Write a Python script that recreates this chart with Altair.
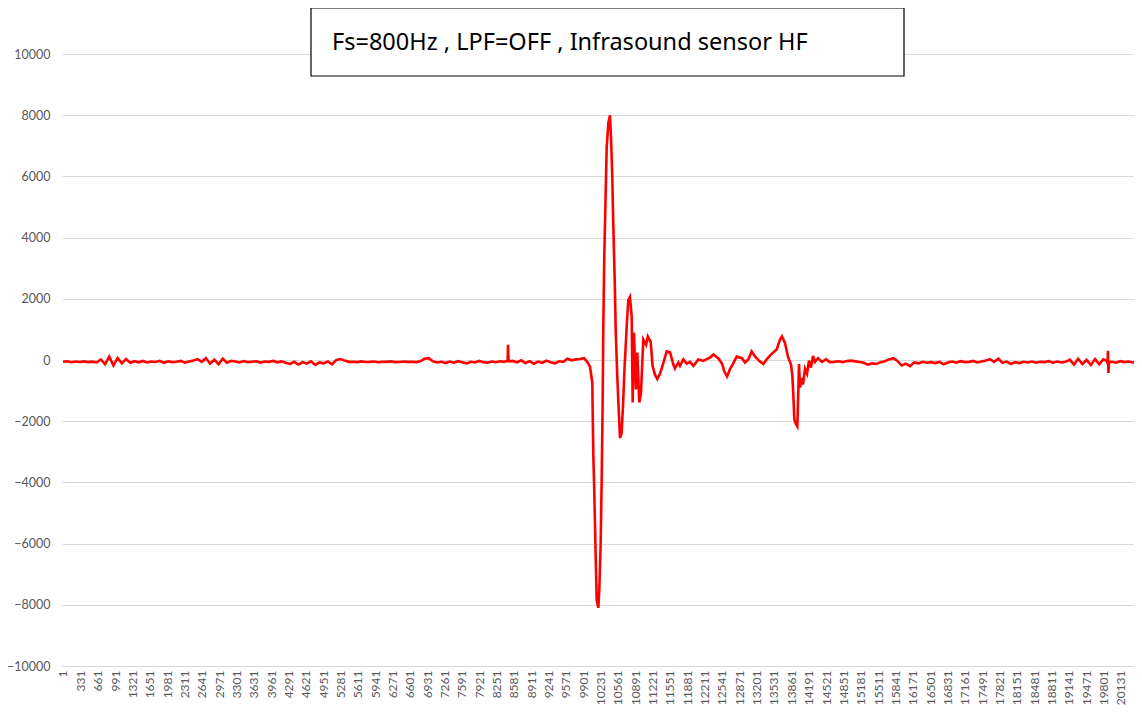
import altair as alt
import pandas as pd

# ---------------- data ----------------
# pre-event baseline, one value every 80 samples starting at sample 1
pre_start, pre_step = 1, 80
pre_values = [
    -60, -40, -75, -50, -65, -45, -70, -55, -80,
    20, -140, 110, -180, 60, -110, 30, -90,
    -40, -75, -30, -80, -50, -65, -25, -90, -45, -70, -55, -30, -85, -50,
    -20, 30, -60, 60, -120, 10, -140, 40, -90, -30,
    -50, -80, -35, -70, -55, -40, -85, -50, -60, -30, -75, -45,
    -90, -130, -60, -150, -70, -120, -40, -160, -80, -110, -50, -140,
    0, 30, -20, -60,
    -55, -70, -45, -65, -60, -50, -75, -55, -60, -45, -70, -65, -50, -60, -55, -70, -45,
    40, 60, -40,
    -80, -60, -100, -50, -90, -40, -70, -110, -60, -80, -30, -70, -90, -50, -75, -40,
    -60, -40,
    -30, -80, -10, -100, -40, -120, -50, -90, -20, -70, -110, -40, -60, 40, -10, 20,
]

# narrow spike near sample 8470
spike1_x = [8462, 8470, 8478]
spike1_y = [-20, 500, 30]

# main event
event_x = [9840, 9916, 9973, 10030, 10074, 10081, 10093, 10112, 10138, 10157,
           10188, 10207, 10233, 10252, 10271, 10283, 10302, 10328, 10347, 10378,
           10410, 10429, 10454, 10473, 10500, 10519, 10549, 10576, 10601, 10630,
           10658, 10686, 10728, 10759, 10790, 10823, 10842, 10866, 10905, 10930,
           10968, 11000, 11044, 11096, 11130, 11184, 11221, 11266, 11310, 11362, 11425,
           11489, 11553, 11616, 11646, 11710, 11742, 11806, 11870, 11933, 11997,
           12092, 12187, 12251, 12314, 12378, 12473, 12542, 12585, 12637, 12694,
           12757, 12821, 12922, 12979, 13042, 13106, 13169, 13264, 13328, 13391,
           13487, 13582, 13645, 13683, 13740, 13798, 13855, 13880, 13899, 13918,
           13950, 13975, 13988, 14007, 14026, 14058, 14083, 14121, 14159, 14197,
           14235, 14273, 14311, 14368, 14444, 14520, 14596]
event_y = [30, 60, -50, -220, -750, -1730, -3100, -4350, -6440, -7840,
           -8100, -7500, -5980, -3920, -1310, 1080, 3430, 5450, 6930, 7740,
           8000, 7290, 5980, 4410, 2610, 980, -550, -1630, -2550, -2400,
           -1500, -300, 1090, 1960, 2060, 1420, -1390, 890, -960, 240,
           -1390, -1070, 670, 500, 770, 600, -200, -480, -620, -450, -100,
           280, 250, -150, -280, -80, -190, 20, -120, -60, -190,
           20, -30, 30, 80, 180, 50, -120, -370, -540, -300,
           -100, 110, 60, -80, 20, 280, 120, -50, -130, 20,
           200, 340, 670, 770, 560, 100, -150, -500, -1130, -1940,
           -2100, -2170, -1400, -130, -900, -590, -800, -290, -450, -20,
           -250, 130, -60, 60, -60, 20, -70]

# post-event baseline, one value every 80 samples starting at 14680
post_start, post_step = 14680, 80
post_values = [
    -60, -40, -70, -30, -20, -45, -65,
    -90, -150, -110, -130,
    -70, -40, 20, 60,
    -30, -180, -120, -200,
    -80, -110, -60, -90, -70, -100,
    -60, -140, -80, -50, -90, -40, -70,
    -60, -30, -80, -50, -20, 30, -60, 40,
    -90, -50, -130, -70, -100, -60, -80, -50, -90,
    -60, -70, -40, -90, -50, -80, -60,
    10, -150, 40, -130, 0, -160, 30,
    -140, 20, -120, -60,
    -90, -40, -70, -50, -80, -60, -70,
]

# spike near sample 19890
spike2_x = [19872, 19886, 19896, 19906]
spike2_y = [-40, 300, -420, -60]

x_tick_labels = [1 + 330 * i for i in range(62)]
y_ticks = [-10000, -8000, -6000, -4000, -2000, 0, 2000, 4000, 6000, 8000, 10000]
annotation = "Fs=800Hz , LPF=OFF , Infrasound sensor HF"

# ---------------- build table ----------------
xs = [pre_start + pre_step * i for i in range(len(pre_values))] + spike1_x + event_x \
    + [post_start + post_step * i for i in range(len(post_values))] + spike2_x
ys = pre_values + spike1_y + event_y + post_values + spike2_y
df = pd.DataFrame({"sample": xs, "value": ys}).sort_values("sample", kind="stable")

FONT = "Lato"
W, H = 1072, 612

line = alt.Chart(df).mark_line(color="#ff0000", strokeWidth=2.6, clip=True).encode(
    x=alt.X("sample:Q",
            scale=alt.Scale(domain=[-18, 20382], nice=False, zero=False),
            axis=alt.Axis(values=x_tick_labels, labelAngle=-90, title=None,
                          format="d",
                          grid=False, ticks=False, domain=True,
                          domainColor="#d9d9d9", labelColor="#595959",
                          labelFontSize=12, labelFont=FONT, labelPadding=4,
                          labelOverlap=False, labelFlush=False)),
    y=alt.Y("value:Q",
            scale=alt.Scale(domain=[-10000, 10000], nice=False),
            axis=alt.Axis(values=y_ticks, format="d", title=None,
                          grid=True, gridColor="#d9d9d9", gridWidth=1,
                          ticks=False, domain=False,
                          labelColor="#595959", labelFontSize=12.5,
                          labelFont=FONT, labelPadding=12)),
)

box_df = pd.DataFrame({"label": [annotation]})
box = alt.Chart(box_df).mark_rect(fill="white", stroke="black", strokeWidth=1.2).encode(
    x=alt.value(249), x2=alt.value(842), y=alt.value(-46), y2=alt.value(22)
)
txt = alt.Chart(box_df).mark_text(
    align="left", baseline="alphabetic", font="Noto Sans", fontSize=23.5, color="black"
).encode(x=alt.value(270), y=alt.value(-4), text="label:N")

chart = alt.layer(line, box, txt).properties(
    width=W, height=H,
    autosize=alt.AutoSizeParams(type="none"),
    padding={"left": 54, "top": 46, "right": 0, "bottom": 40},
).configure_view(stroke=None)

chart.save("out.html", embed_options={"renderer": "svg", "actions": False})
